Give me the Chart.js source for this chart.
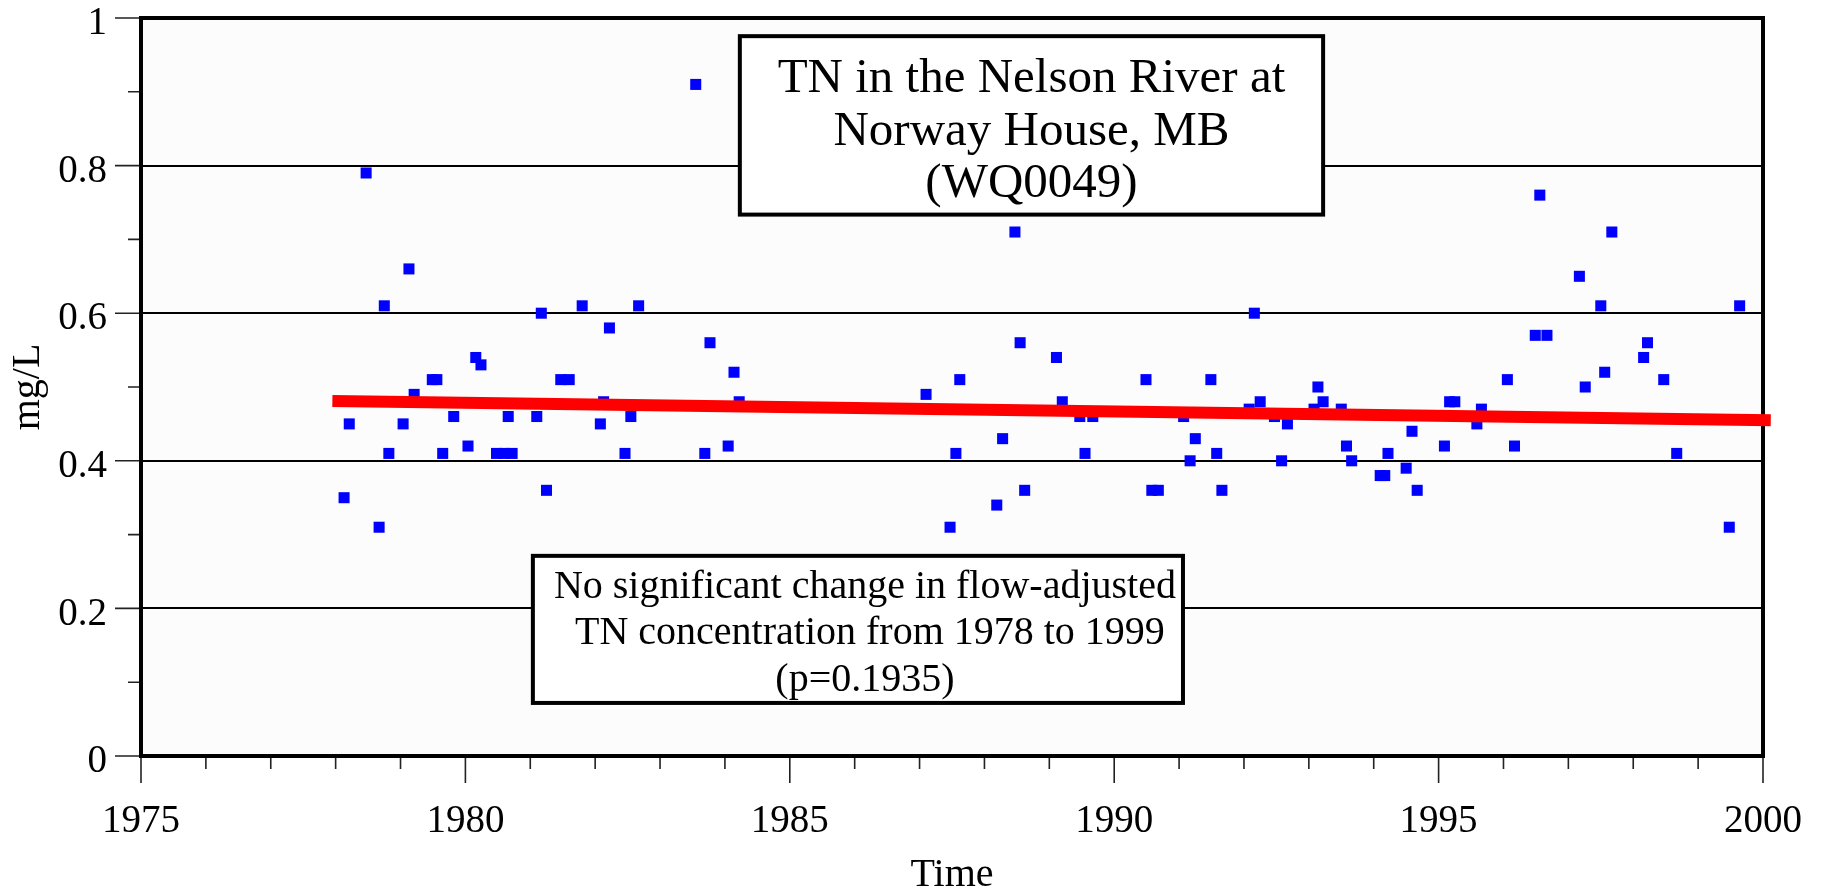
<!DOCTYPE html>
<html>
<head>
<meta charset="utf-8">
<script src="https://cdn.jsdelivr.net/npm/chart.js@4.4.0/dist/chart.umd.min.js"></script>
<style>
html,body{margin:0;padding:0;background:#ffffff;}
#wrap{width:1829px;height:895px;position:relative;}
</style>
</head>
<body>
<div id="wrap"><canvas id="c"></canvas></div>
<script>
// ---- data ----
const sampleYears = [
  1978.13,1978.21,1978.47,1978.67,1978.75,1978.82,1979.04,1979.13,1979.21,1979.49,
  1979.56,1979.65,1979.82,1980.04,1980.16,1980.24,1980.48,1980.60,1980.66,1980.72,
  1981.10,1981.17,1981.25,1981.47,1981.60,1981.80,1982.08,1982.13,1982.22,1982.46,
  1982.55,1982.67,1983.55,1983.69,1983.77,1984.05,1984.14,1984.22,1987.10,1987.47,
  1987.56,1987.62,1988.19,1988.28,1988.47,1988.55,1988.62,1989.11,1989.20,1989.47,
  1989.55,1989.67,1990.49,1990.58,1990.68,1991.07,1991.17,1991.25,1991.49,1991.58,
  1991.66,1992.08,1992.16,1992.25,1992.47,1992.58,1992.67,1993.08,1993.14,1993.22,
  1993.50,1993.58,1993.66,1994.10,1994.17,1994.22,1994.50,1994.59,1994.67,1995.09,
  1995.17,1995.25,1995.50,1995.59,1995.66,1996.06,1996.17,1996.25,1996.49,1996.56,
  1996.67,1997.17,1997.26,1997.50,1997.56,1997.67,1998.16,1998.22,1998.47,1998.67,
  1999.48,1999.64
];
const sampleTN = [
  0.35,0.45,0.79,0.31,0.61,0.41,0.45,0.66,0.49,0.51,
  0.51,0.41,0.46,0.42,0.54,0.53,0.41,0.41,0.46,0.41,
  0.46,0.60,0.36,0.51,0.51,0.61,0.45,0.48,0.58,0.41,
  0.46,0.61,0.91,0.41,0.56,0.42,0.52,0.48,0.49,0.31,
  0.41,0.51,0.34,0.43,0.71,0.56,0.36,0.54,0.48,0.46,
  0.41,0.46,0.51,0.36,0.36,0.46,0.40,0.43,0.51,0.41,
  0.36,0.47,0.60,0.48,0.46,0.40,0.45,0.47,0.50,0.48,
  0.47,0.42,0.40,0.38,0.38,0.41,0.39,0.44,0.36,0.42,
  0.48,0.48,0.46,0.45,0.47,0.51,0.42,0.46,0.57,0.76,
  0.57,0.65,0.50,0.61,0.52,0.71,0.54,0.56,0.51,0.41,
  0.31,0.61
];
const trendYears = [1977.95, 2000.12];
const trendTN = [0.481, 0.455];

const xMin = 1975, xMax = 2000;
const yMin = 0, yMax = 1;
const yLabelled = [0, 0.2, 0.4, 0.6, 0.8, 1];
const xLabelled = [1975, 1980, 1985, 1990, 1995, 2000];

const xTitle = 'Time';
const yTitle = 'mg/L';
const titleLines = ['TN in the Nelson River at', 'Norway House, MB', '(WQ0049)'];
const noteLines = ['No significant change in flow-adjusted', ' TN concentration from 1978 to 1999', '(p=0.1935)'];

// ---- styling / layout ----
const FONT = "'Liberation Serif', 'Times New Roman', serif";

// annotation boxes, in axis units
const titleBox = {x0: 1984.23, x1: 1993.22, y0: 0.9754, y1: 0.7336, size: 49, first: 56, step: 52.5, cx: 0};
const noteBox  = {x0: 1981.04, x1: 1991.06, y0: 0.2712, y1: 0.0719, size: 40, first: 42, step: 46.5, cx: 7};

const plotDeco = {
  id: 'plotDeco',
  beforeDraw(chart) {
    const {ctx, chartArea: a} = chart;
    ctx.save();
    ctx.fillStyle = '#fcfcfc';
    ctx.fillRect(a.left, a.top, a.right - a.left, a.bottom - a.top);
    ctx.restore();
  },
  beforeDatasetsDraw(chart) {
    const {ctx, chartArea: a, scales: {x, y}} = chart;
    ctx.save();
    ctx.strokeStyle = '#222';
    ctx.lineWidth = 1.6;
    ctx.beginPath();
    x.ticks.forEach(t => {
      const px = x.getPixelForValue(t.value);
      const len = (Math.round(t.value) % 5 === 0) ? 27 : 13;
      ctx.moveTo(px, a.bottom);
      ctx.lineTo(px, a.bottom + len);
    });
    y.ticks.forEach(t => {
      const py = y.getPixelForValue(t.value);
      const major = Math.abs(Math.round(t.value * 10) % 2) === 0;
      const len = major ? 26 : 13;
      ctx.moveTo(a.left - len, py);
      ctx.lineTo(a.left, py);
    });
    ctx.stroke();
    ctx.strokeStyle = '#000';
    ctx.lineWidth = 4;
    ctx.lineJoin = 'miter';
    ctx.strokeRect(a.left, a.top, a.right - a.left, a.bottom - a.top);
    ctx.restore();
  },
  afterDraw(chart) {
    const {ctx, scales: {x, y}} = chart;
    [[titleBox, titleLines], [noteBox, noteLines]].forEach(([b, lines]) => {
      const l = x.getPixelForValue(b.x0), r = x.getPixelForValue(b.x1);
      const t = y.getPixelForValue(b.y0), bt = y.getPixelForValue(b.y1);
      ctx.save();
      ctx.fillStyle = '#ffffff';
      ctx.fillRect(l, t, r - l, bt - t);
      ctx.strokeStyle = '#000';
      ctx.lineWidth = 4;
      ctx.strokeRect(l, t, r - l, bt - t);
      ctx.fillStyle = '#000';
      ctx.font = b.size + 'px ' + FONT;
      ctx.textAlign = 'center';
      ctx.textBaseline = 'alphabetic';
      lines.forEach((s, i) => {
        ctx.fillText(s, (l + r) / 2 + b.cx, t + b.first + i * b.step);
      });
      ctx.restore();
    });
  }
};

const ctx = document.getElementById('c').getContext('2d');
new Chart(ctx, {
  type: 'scatter',
  data: {
    datasets: [
      {
        label: 'TN',
        data: sampleYears.map((v, i) => ({x: v, y: sampleTN[i]})),
        pointStyle: 'rect',
        pointRadius: 7.8,
        pointHoverRadius: 7.8,
        pointBorderWidth: 0,
        backgroundColor: '#0000ff',
        borderColor: '#0000ff',
        showLine: false,
        order: 2
      },
      {
        label: 'Trend',
        type: 'line',
        data: trendYears.map((v, i) => ({x: v, y: trendTN[i]})),
        borderColor: '#ff0000',
        borderWidth: 12,
        borderCapStyle: 'butt',
        pointRadius: 0,
        showLine: true,
        fill: false,
        clip: false,
        order: 1
      }
    ]
  },
  options: {
    responsive: true,
    maintainAspectRatio: false,
    animation: false,
    devicePixelRatio: 1,
    layout: {padding: {top: 18, right: 66, left: 0, bottom: 0}},
    plugins: {legend: {display: false}, tooltip: {enabled: false}},
    scales: {
      x: {
        type: 'linear',
        min: xMin, max: xMax,
        afterFit(s) { s.height = 139; s.paddingLeft = 0; s.paddingRight = 0; s.paddingTop = 0; s.paddingBottom = 0; },
        afterBuildTicks(s) {
          const arr = [];
          for (let v = xMin; v <= xMax; v++) arr.push({value: v});
          s.ticks = arr;
        },
        ticks: {
          autoSkip: false,
          maxRotation: 0,
          padding: 42,
          color: '#000',
          font: {family: FONT, size: 39},
          callback: v => xLabelled.includes(Math.round(v)) ? String(Math.round(v)) : ''
        },
        grid: {display: false, drawTicks: false},
        border: {display: false},
        title: {display: true, text: xTitle, color: '#000', font: {family: FONT, size: 40, lineHeight: 1}, padding: {top: 0, bottom: 0}}
      },
      y: {
        type: 'linear',
        min: yMin, max: yMax,
        afterFit(s) { s.width = 141; s.paddingTop = 0; s.paddingBottom = 0; s.paddingLeft = 0; s.paddingRight = 0; },
        afterBuildTicks(s) {
          const arr = [];
          for (let i = 0; i <= 10; i++) arr.push({value: i / 10});
          s.ticks = arr;
        },
        ticks: {
          autoSkip: false,
          padding: 34,
          labelOffset: 6,
          color: '#000',
          font: {family: FONT, size: 39},
          callback: v => {
            const m = yLabelled.find(l => Math.abs(l - v) < 1e-6);
            return m === undefined ? '' : String(m);
          }
        },
        grid: {
          drawTicks: false,
          lineWidth: 2,
          color: c => {
            const v = c.tick ? c.tick.value : 0;
            const onLabel = yLabelled.some(l => Math.abs(l - v) < 1e-6);
            return (onLabel && v > 0 && v < 1) ? '#000' : 'rgba(0,0,0,0)';
          }
        },
        border: {display: false},
        title: {display: true, text: yTitle, color: '#000', font: {family: FONT, size: 40, lineHeight: 1}, padding: {top: 8, bottom: 0}}
      }
    }
  },
  plugins: [plotDeco]
});
</script>
</body>
</html>
